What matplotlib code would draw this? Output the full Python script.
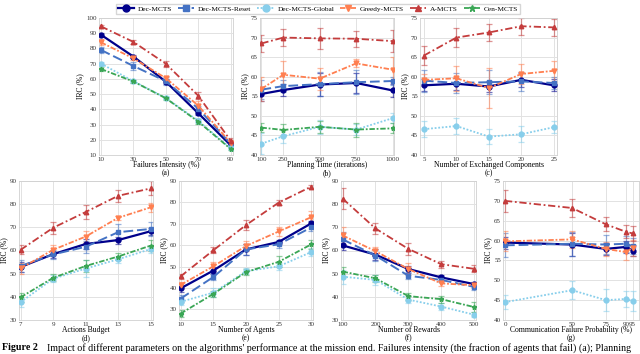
import matplotlib
matplotlib.use('Agg')
import matplotlib.pyplot as plt
from matplotlib.lines import Line2D

plt.rcParams['font.family'] = ['Liberation Serif', 'DejaVu Serif']

names = ['Dec-MCTS', 'Dec-MCTS-Reset', 'Dec-MCTS-Global', 'Greedy-MCTS', 'A-MCTS', 'Cen-MCTS']

# (a) failures intensity
fail_x = [10, 30, 50, 70, 90]
fail_mean = {
    'Dec-MCTS': [89, 74.7, 58.2, 37.5, 16.5],
    'Dec-MCTS-Reset': [79, 68.5, 58.5, 40.5, 17.5],
    'Dec-MCTS-Global': [70, 58.5, 47.5, 32.5, 14.5],
    'Greedy-MCTS': [84, 73.5, 60.5, 42.5, 18],
    'A-MCTS': [94.5, 84.3, 70, 49, 19.5],
    'Cen-MCTS': [66.5, 58.3, 47.3, 32, 14],
}
fail_err = {
    'Dec-MCTS': [1, 1, 1.5, 1.5, 1],
    'Dec-MCTS-Reset': [2, 2.5, 2.5, 2, 1],
    'Dec-MCTS-Global': [1, 1, 1, 1.5, 1],
    'Greedy-MCTS': [2, 1, 1.5, 3, 1],
    'A-MCTS': [1, 1.5, 2, 2.5, 1.5],
    'Cen-MCTS': [1, 1, 1, 1.5, 1],
}

# (b) planning time
plan_x = [100, 250, 500, 750, 1000]
plan_mean = {
    'Dec-MCTS': [55.6, 56.6, 58.0, 58.4, 56.5],
    'Dec-MCTS-Reset': [56.7, 57.6, 58.1, 58.6, 58.9],
    'Dec-MCTS-Global': [42.9, 44.8, 47.2, 46.5, 49.4],
    'Greedy-MCTS': [56.9, 60.5, 59.5, 63.4, 61.8],
    'A-MCTS': [68.5, 70.0, 69.8, 69.7, 69.1],
    'Cen-MCTS': [47.0, 46.4, 47.2, 46.5, 46.8],
}
plan_err = {
    'Dec-MCTS': [1.7, 1.5, 3, 2.5, 1.6],
    'Dec-MCTS-Reset': [2.5, 1.5, 3, 3, 1],
    'Dec-MCTS-Global': [2.7, 1.7, 1.8, 1.3, 1.3],
    'Greedy-MCTS': [3, 3.5, 2.8, 1, 3.2],
    'A-MCTS': [2.2, 2.2, 2.6, 2.0, 2.8],
    'Cen-MCTS': [1.2, 1.5, 1.5, 1.8, 1.3],
}

# (c) exchanged components
comp_x = [5, 10, 15, 20, 25]
comp_mean = {
    'Dec-MCTS': [57.8, 58.2, 57.5, 59.2, 57.8],
    'Dec-MCTS-Reset': [59.0, 58.4, 58.6, 58.8, 58.4],
    'Dec-MCTS-Global': [46.6, 47.4, 44.7, 45.3, 47.1],
    'Greedy-MCTS': [59.2, 59.6, 57.1, 60.7, 61.5],
    'A-MCTS': [65.4, 70.0, 71.3, 72.9, 72.6],
}
comp_err = {
    'Dec-MCTS': [1.5, 1.5, 1.5, 1.8, 1.5],
    'Dec-MCTS-Reset': [2.8, 2.5, 3, 2.5, 1.5],
    'Dec-MCTS-Global': [2, 2, 2, 2, 1.5],
    'Greedy-MCTS': [1.5, 3.2, 5, 2.5, 2.5],
    'A-MCTS': [2.5, 2.5, 2.2, 2.2, 2.2],
}

# (d) actions budget
budget_x = [7, 9, 11, 13, 15]
budget_mean = {
    'Dec-MCTS': [52.9, 58.4, 62.8, 64.5, 68.3],
    'Dec-MCTS-Reset': [53.3, 58.3, 61.6, 67.9, 69.3],
    'Dec-MCTS-Global': [37.7, 47.8, 52.2, 56.2, 60.6],
    'Greedy-MCTS': [52.3, 60.3, 66.0, 74.1, 78.6],
    'A-MCTS': [60.3, 69.8, 76.6, 83.6, 86.8],
    'Cen-MCTS': [39.8, 48.2, 53.3, 57.4, 62.1],
}
budget_err = {
    'Dec-MCTS': [2, 1.5, 2, 1.5, 1.5],
    'Dec-MCTS-Reset': [2.5, 2, 2.5, 3.5, 3],
    'Dec-MCTS-Global': [2, 1.5, 3.5, 1.5, 1.5],
    'Greedy-MCTS': [2.5, 2, 2.5, 1, 2],
    'A-MCTS': [2, 2.5, 3, 2.5, 3],
    'Cen-MCTS': [2, 1.5, 2.5, 1.5, 2.5],
}

# (e) number of agents
agents_x = [10, 15, 20, 25, 30]
agents_mean = {
    'Dec-MCTS': [39.8, 48.1, 58.0, 61.5, 70.2],
    'Dec-MCTS-Reset': [35.0, 45.1, 58.0, 60.4, 68.3],
    'Dec-MCTS-Global': [33.5, 37.8, 47.8, 50.1, 56.8],
    'Greedy-MCTS': [41.4, 50.1, 59.6, 66.4, 73.1],
    'A-MCTS': [45.4, 57.6, 69.4, 79.9, 87.4],
    'Cen-MCTS': [28.0, 37.2, 47.4, 52.2, 60.4],
}
agents_err = {
    'Dec-MCTS': [1.5, 1.5, 2.5, 1, 1],
    'Dec-MCTS-Reset': [1.5, 1.5, 2.5, 1.5, 1.5],
    'Dec-MCTS-Global': [1.5, 2, 1.5, 1.5, 2],
    'Greedy-MCTS': [1.5, 2, 2.5, 2, 3],
    'A-MCTS': [1, 1.5, 2.5, 1, 0.8],
    'Cen-MCTS': [1.5, 1.5, 1.5, 2.5, 2],
}

# (f) number of rewards
rew_x = [100, 200, 300, 400, 500]
rew_mean = {
    'Dec-MCTS': [62.2, 58.2, 52.0, 48.4, 45.5],
    'Dec-MCTS-Reset': [64.8, 57.8, 49.1, 47.3, 44.3],
    'Dec-MCTS-Global': [48.7, 47.3, 38.8, 35.8, 32.3],
    'Greedy-MCTS': [66.5, 59.7, 52.0, 45.8, 45.0],
    'A-MCTS': [82.4, 69.5, 60.7, 54.1, 52.1],
    'Cen-MCTS': [50.9, 48.0, 40.3, 39.0, 35.6],
}
rew_err = {
    'Dec-MCTS': [2, 2.5, 1.5, 1, 1],
    'Dec-MCTS-Reset': [3, 2.5, 1.5, 1, 1.5],
    'Dec-MCTS-Global': [3, 2, 1.5, 1.5, 1],
    'Greedy-MCTS': [3.5, 2, 2.5, 1, 1],
    'A-MCTS': [4.5, 2.5, 2.5, 1.5, 1.5],
    'Cen-MCTS': [2, 1.5, 1.5, 1.5, 2],
}

# (g) communication failure probability
comm_x = [0, 50, 75, 90, 95]
comm_mean = {
    'Dec-MCTS': [59.5, 59.0, 57.9, 58.4, 57.5],
    'Dec-MCTS-Reset': [58.8, 59.2, 59.0, 59.2, 58.6],
    'Dec-MCTS-Global': [44.5, 47.5, 45.0, 45.3, 44.7],
    'Greedy-MCTS': [59.8, 60.3, 57.9, 57.1, 58.2],
    'A-MCTS': [70.0, 68.2, 64.1, 62.2, 61.8],
}
comm_err = {
    'Dec-MCTS': [1.5, 3, 1.5, 1.5, 1.5],
    'Dec-MCTS-Reset': [3, 3, 2.5, 2, 2],
    'Dec-MCTS-Global': [1.8, 2.2, 2.7, 2, 2.5],
    'Greedy-MCTS': [2.5, 2.2, 1.8, 2, 2],
    'A-MCTS': [2.7, 2.2, 1.8, 1.6, 1.8],
}

style = {
    'Dec-MCTS': dict(color='#00008B', ls='-', marker='o', lw=1.6, ms=3.5),
    'Dec-MCTS-Reset': dict(color='#4472C4', ls=(0, (5, 2)), marker='s', lw=1.4, ms=3.5),
    'Dec-MCTS-Global': dict(color='#87CEEB', ls=(0, (1, 1)), marker='o', lw=1.3, ms=3.5),
    'Greedy-MCTS': dict(color='#FF7F50', ls=(0, (3, 1, 1, 1)), marker='v', lw=1.3, ms=3.5),
    'A-MCTS': dict(color='#C43C3C', ls=(0, (4, 1.5, 1, 1.5)), marker='^', lw=1.3, ms=3.2),
    'Cen-MCTS': dict(color='#3AA655', ls=(0, (3, 1, 1, 1)), marker='*', lw=1.3, ms=3.5),
}

fig = plt.figure(figsize=(6.4, 3.54), dpi=100)

W, H = 640.0, 354.0


def make_ax(l, r, t, b):
    return fig.add_axes([l / W, 1 - b / H, (r - l) / W, (b - t) / H])


panels = [
    (make_ax(99, 233, 18, 155), fail_x, fail_mean, fail_err, (8.8, 91.5), (10, 100), range(10, 101, 10),
     'Failures Intensity (%)', '(a)'),
    (make_ax(260, 394, 18, 155), plan_x, plan_mean, plan_err, (90, 1010), (40, 75), range(40, 76, 5),
     'Planning Time (iterations)', '(b)'),
    (make_ax(420, 557, 18, 155), comp_x, comp_mean, comp_err, (4.4, 25.5), (40, 75), range(40, 76, 5),
     'Number of Exchanged Components', '(c)'),
    (make_ax(19, 153, 181, 320), budget_x, budget_mean, budget_err, (6.9, 15.15), (30, 90), range(30, 91, 10),
     'Actions Budget', '(d)'),
    (make_ax(179, 313, 181, 320), agents_x, agents_mean, agents_err, (9.75, 30.25), (25, 90), range(30, 91, 10),
     'Number of Agents', '(e)'),
    (make_ax(341, 476, 181, 320), rew_x, rew_mean, rew_err, (95, 506), (30, 90), range(30, 91, 10),
     'Number of Rewards', '(f)'),
    (make_ax(503, 639, 181, 320), comm_x, comm_mean, comm_err, (-1.5, 99.7), (40, 75), range(40, 76, 5),
     'Communication Failure Probability (%)', '(g)'),
]

for ax, xs, means, errs, xlim, ylim, yt, xlab, tag in panels:
    for n in names:
        if n not in means:
            continue
        st = style[n]
        ax.errorbar(xs, means[n], yerr=errs[n], fmt='none', ecolor=st['color'], alpha=0.55,
                    elinewidth=0.9, capsize=2.2, capthick=0.9, zorder=2)
        ax.plot(xs, means[n], color=st['color'], ls=st['ls'], lw=st['lw'], marker=st['marker'],
                ms=st['ms'], zorder=3)
    ax.set_xlim(*xlim)
    ax.set_ylim(*ylim)
    ax.set_xticks(xs)
    ax.set_yticks(list(yt))
    ax.tick_params(labelsize=5, length=0, pad=1.5, colors='#333333')
    ax.grid(True, color='#e2e2e2', lw=0.7)
    ax.set_axisbelow(True)
    for s in ax.spines.values():
        s.set_color('#d0d0d0')
        s.set_linewidth(0.6)
    ax.set_ylabel('IRC (%)', fontsize=5.5, labelpad=1.5)
    # x label and panel tag placed by hand, tighter than the default
    pos = ax.get_position()
    cx = pos.x0 + pos.width / 2
    fig.text(cx, pos.y0 - 10 / H, xlab, fontsize=5.5, ha='center', va='center')
    fig.text(cx, pos.y0 - 18 / H, tag, fontsize=5.5, ha='center', va='center')

handles = [Line2D([], [], color=style[n]['color'], ls=style[n]['ls'], lw=style[n]['lw'],
                  marker=style[n]['marker'], ms=5) for n in names]
fig.legend(handles, names, loc='upper center', bbox_to_anchor=(318 / W, 1.0), ncol=6,
           fontsize=5.3, frameon=True, handlelength=2.2, columnspacing=0.8, borderpad=0.3,
           handletextpad=0.5, edgecolor='#cccccc', fancybox=False)

fig.text(2 / W, 1 - 348 / H, 'Figure 2', fontsize=7.2, fontweight='bold', va='center', ha='left')
fig.text(47 / W, 1 - 348 / H,
         "Impact of different parameters on the algorithms' performance at the mission end. "
         "Failures intensity (the fraction of agents that fail) (a); Planning",
         fontsize=7.2, va='center', ha='left')

fig.savefig('out.png', dpi=100)
